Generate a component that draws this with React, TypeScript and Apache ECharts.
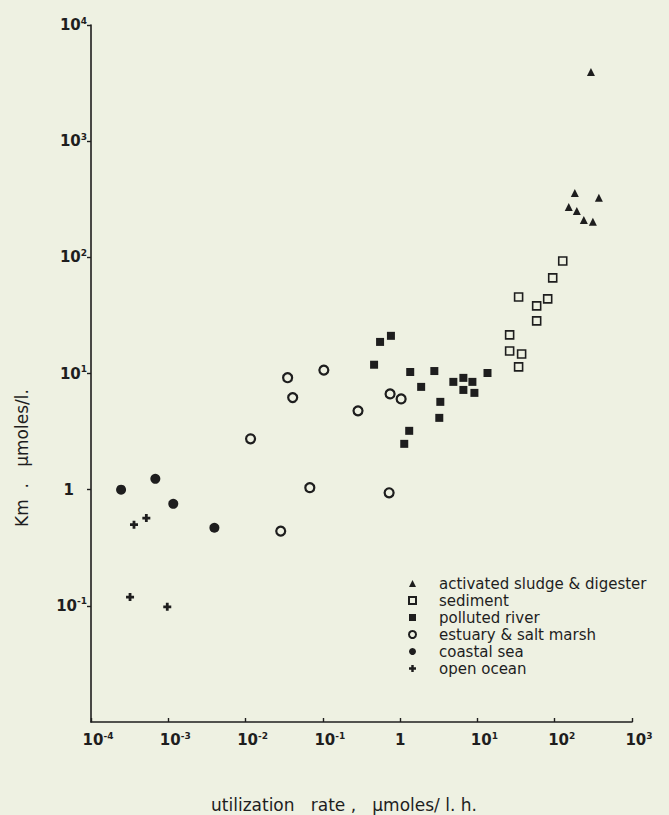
import React, { useEffect, useRef } from "react";
import * as echarts from "echarts";

// utilization rate (µmoles/l.h) , Km (µmoles/l)
const activatedSludge: [number, number][] = [
  [294, 3940], [182, 358], [373, 325], [152, 271], [193, 251], [238, 210], [312, 202],
];
const sediment: [number, number][] = [
  [26.1, 21.5], [26.1, 15.6], [37.3, 14.7], [34.1, 11.4], [34.1, 45.6],
  [58.4, 38.2], [58.4, 28.4], [81.1, 43.9], [94.2, 66.5], [127, 93.1],
];
const pollutedRiver: [number, number][] = [
  [0.55, 18.7], [0.76, 21.1], [0.46, 11.9], [1.35, 10.3], [2.77, 10.5], [1.87, 7.67],
  [4.88, 8.47], [6.58, 9.17], [8.61, 8.47], [6.58, 7.22], [9.14, 6.81], [13.5, 10.1],
  [3.31, 5.7], [3.21, 4.15], [1.31, 3.21], [1.13, 2.48],
];
const estuarySaltMarsh: [number, number][] = [
  [0.0116, 2.74], [0.0285, 0.44], [0.035, 9.2], [0.0407, 6.2], [0.0678, 1.04],
  [0.103, 10.7], [0.285, 4.77], [0.741, 6.67], [1.03, 6.04], [0.72, 0.94],
];
const coastalSea: [number, number][] = [
  [0.000245, 1.0], [0.00068, 1.24], [0.00116, 0.755], [0.00395, 0.47],
];
const openOcean: [number, number][] = [
  [0.00036, 0.5], [0.00052, 0.57], [0.00032, 0.119], [0.00097, 0.098],
];

const seriesNames = [
  "activated sludge & digester",
  "sediment",
  "polluted river",
  "estuary & salt marsh",
  "coastal sea",
  "open ocean",
];

const xTickExponents = [-4, -3, -2, -1, 0, 1, 2, 3];
const yTickExponents = [-2, -1, 0, 1, 2, 3, 4];

const xAxisTitle = "utilization   rate ,   µmoles/ l. h.";
const yAxisTitle = "Km  .   µmoles/l.";

const BG = "#eef1e2";
const INK = "#1e1e1e";
const FONT = "DejaVu Sans";

const PLUS = "path://M2.6,0H5.4V2.6H8V5.4H5.4V8H2.6V5.4H0V2.6H2.6Z";

function expOf(v: number) {
  return Math.round(Math.log10(v));
}

export default function App() {
  const ref = useRef<HTMLDivElement>(null);
  useEffect(() => {
    if (!ref.current) return;
    const chart = echarts.init(ref.current, undefined, { renderer: "svg" });
    const rich = {
      b: { fontSize: 15, fontWeight: "bold", fontFamily: FONT, color: INK, lineHeight: 18 },
      s: { fontSize: 9, fontWeight: "bold", fontFamily: FONT, color: INK, lineHeight: 10, verticalAlign: "top" },
      pad: { width: 14, fontSize: 9, lineHeight: 10 },
      sp: { width: 13, fontSize: 9, lineHeight: 10 },
    };
    const option: any = {
      animation: false,
      backgroundColor: BG,
      grid: { left: 91, right: 37, top: 25, bottom: 93, containLabel: false },
      legend: {
        orient: "vertical",
        left: 403,
        top: 571,
        itemWidth: 7,
        itemHeight: 7,
        itemGap: 2,
        selectedMode: false,
        data: seriesNames,
        textStyle: {
          fontFamily: FONT,
          fontSize: 15,
          color: INK,
          lineHeight: 14,
          padding: [0, 0, 0, 18],
        },
      },
      xAxis: {
        type: "log",
        logBase: 10,
        min: Math.pow(10, xTickExponents[0]),
        max: Math.pow(10, xTickExponents[xTickExponents.length - 1]),
        splitLine: { show: false },
        axisLine: { lineStyle: { color: INK, width: 1.6 } },
        axisTick: { inside: true, length: 4, lineStyle: { color: INK, width: 1.4 } },
        axisLabel: {
          margin: 9,
          showMinLabel: true,
          showMaxLabel: true,
          formatter: (v: number) => {
            const e = expOf(v);
            if (!xTickExponents.includes(e)) return "";
            return e === 0 ? "{b|1}" : `{pad| }{b|10}{s|${e}}`;
          },
          rich,
        },
      },
      yAxis: {
        type: "log",
        logBase: 10,
        min: Math.pow(10, yTickExponents[0]),
        max: Math.pow(10, yTickExponents[yTickExponents.length - 1]),
        splitLine: { show: false },
        axisLine: { lineStyle: { color: INK, width: 1.6 } },
        axisTick: { inside: false, length: 4, lineStyle: { color: INK, width: 1.4 } },
        axisLabel: {
          margin: 4,
          showMinLabel: false,
          showMaxLabel: true,
          formatter: (v: number) => {
            const e = expOf(v);
            if (e === yTickExponents[0]) return "";
            return e === 0 ? "{b|1}{sp| }" : `{b|10}{s|${e}}`;
          },
          rich,
        },
      },
      graphic: [
        {
          type: "text",
          x: 22,
          y: 458,
          rotation: Math.PI / 2,
          style: {
            text: yAxisTitle,
            fontFamily: FONT,
            fontSize: 17,
            fill: INK,
            align: "center",
            verticalAlign: "middle",
          },
        },
        {
          type: "text",
          x: 344,
          y: 805,
          style: {
            text: xAxisTitle,
            fontFamily: FONT,
            fontSize: 17,
            fill: INK,
            align: "center",
            verticalAlign: "middle",
          },
        },
      ],
      series: [
        {
          name: seriesNames[0],
          type: "scatter",
          data: activatedSludge,
          symbol: "triangle",
          symbolSize: 8,
          itemStyle: { color: INK, opacity: 1 },
        },
        {
          name: seriesNames[1],
          type: "scatter",
          data: sediment,
          symbol: "rect",
          symbolSize: 8,
          itemStyle: { color: BG, borderColor: INK, borderWidth: 1.6, opacity: 1 },
        },
        {
          name: seriesNames[2],
          type: "scatter",
          data: pollutedRiver,
          symbol: "rect",
          symbolSize: 8,
          itemStyle: { color: INK, opacity: 1 },
        },
        {
          name: seriesNames[3],
          type: "scatter",
          data: estuarySaltMarsh,
          symbol: "circle",
          symbolSize: 9,
          itemStyle: { color: BG, borderColor: INK, borderWidth: 2.2, opacity: 1 },
        },
        {
          name: seriesNames[4],
          type: "scatter",
          data: coastalSea,
          symbol: "circle",
          symbolSize: 10,
          itemStyle: { color: INK, opacity: 1 },
        },
        {
          name: seriesNames[5],
          type: "scatter",
          data: openOcean,
          symbol: PLUS,
          symbolSize: 8,
          itemStyle: { color: INK, opacity: 1 },
        },
      ],
    };
    chart.setOption(option);
    return () => chart.dispose();
  }, []);
  return (
    <div
      ref={ref}
      style={{ position: "fixed", left: 0, top: 0, width: 669, height: 815, background: BG }}
    />
  );
}
